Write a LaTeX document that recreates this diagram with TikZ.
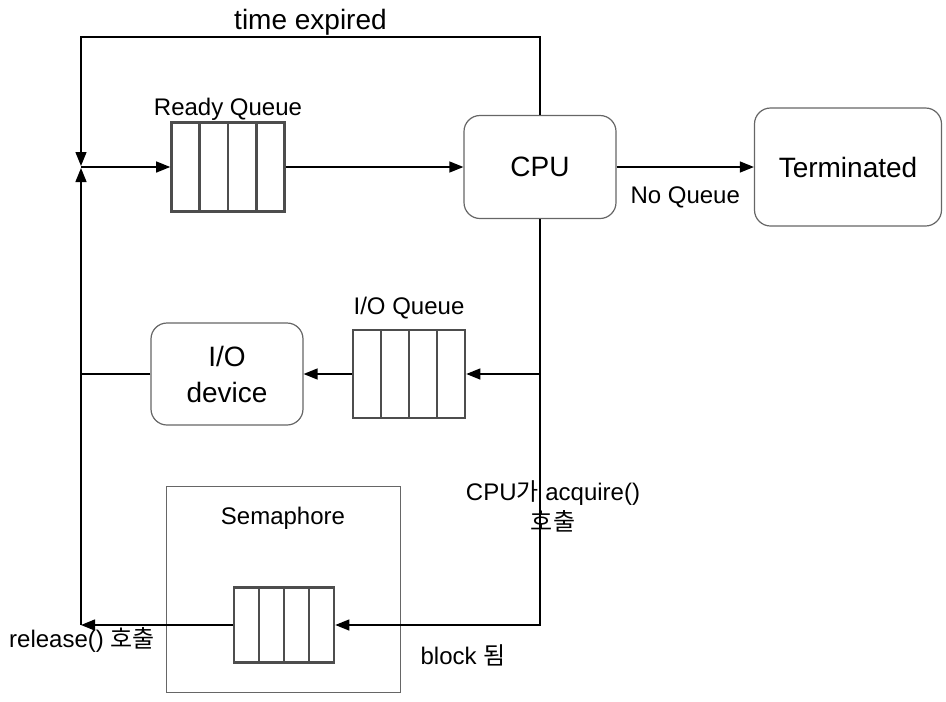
\documentclass[tikz,border=0pt]{standalone}
\usepackage{fontspec}
\setmainfont{Liberation Sans}
\newfontfamily\kr{Noto Sans CJK KR}
\usetikzlibrary{arrows.meta,calc}
\definecolor{boxgray}{HTML}{666666}
\definecolor{qgray}{HTML}{4D4D4D}
\tikzstyle{block} = [draw=boxgray, line width=1.2pt, rectangle, rounded corners=16pt,
    align=center, font=\fontsize{28}{36}\selectfont]
\tikzstyle{queue} = [draw=qgray, line width=2.6pt, rectangle, inner sep=0pt,
    path picture={\foreach \i in {1,2,3}
      \draw [qgray, line width=2.6pt]
        ($(path picture bounding box.south west)!\i/4!(path picture bounding box.south east)$) --
        ($(path picture bounding box.north west)!\i/4!(path picture bounding box.north east)$);}]
\tikzstyle{frame} = [draw=boxgray, line width=1pt, rectangle]
\tikzstyle{lbl} = [font=\fontsize{24}{30}\selectfont, align=center]
\tikzstyle{line} = [line width=1.3pt]
\tikzstyle{junction} = [coordinate]

\begin{document}
\begin{tikzpicture}[x=1pt,y=1pt,node distance=2cm,>={Triangle[length=14pt,width=11pt]}]
    \useasboundingbox (0,0) rectangle (946,-702);
    \node [block, minimum width=152pt, minimum height=103pt] (cpu) at (540,-167) {CPU};
    \node [queue, left of=cpu, node distance=312pt, minimum width=113pt, minimum height=89pt,
           label={[lbl, label distance=-3pt]above:Ready Queue}] (ready) {};
    \node [block, right of=cpu, node distance=308pt, minimum width=187pt, minimum height=118pt] (term) {Terminated};
    \node [queue, below of=cpu, node distance=207pt, xshift=-131pt, minimum width=112pt, minimum height=88pt,
           label={[lbl, label distance=6pt]above:I/O Queue}] (ioq) {};
    \node [block, left of=ioq, node distance=182pt, minimum width=152pt, minimum height=102pt] (iodev) {I/O\\device};
    \node [frame, below of=iodev, node distance=215pt, xshift=56pt, minimum width=234pt, minimum height=206pt,
           label={[lbl, anchor=north, yshift=-18pt]north:Semaphore}] (sema) {};
    \node [queue, below of=sema, node distance=36pt, xshift=1pt, minimum width=100pt, minimum height=75pt] (sq) {};
    \node [junction, left of=ready, node distance=147pt] (merge) {};
    \node [junction] (release) at (merge |- sq) {};

    \draw [->,line] (merge) -- (ready);
    \draw [->,line] (ready) -- (cpu);
    \draw [->,line] (cpu) -- node [lbl, below=16pt] {No Queue} (term);
    \draw [->,line] (cpu.north) -- ++(0,78) -- node [lbl, font=\fontsize{28}{32}\selectfont, above=-2pt] {time expired}
        ++(-459,0) -- ([yshift=1pt]merge);
    \draw [->,line] (cpu.south) |- (sq.east);
    \draw [->,line] (cpu.south |- ioq) -- (ioq);
    \draw [->,line] (ioq) -- (iodev);
    \draw [line] (iodev) -- (iodev -| merge);
    \draw [->,line] (sq) -- (release);
    \draw [->,line] (release) -- ([yshift=-1pt]merge);

    \node [lbl] (acq) at (553,-506) {CPU{\kr 가} acquire()\\{\kr 호출}};
    \node [lbl] (blk) at (463,-655) {block {\kr 됨}};
    \node [lbl] (rel) at (82,-640) {release() {\kr 호출}};
\end{tikzpicture}
\end{document}
